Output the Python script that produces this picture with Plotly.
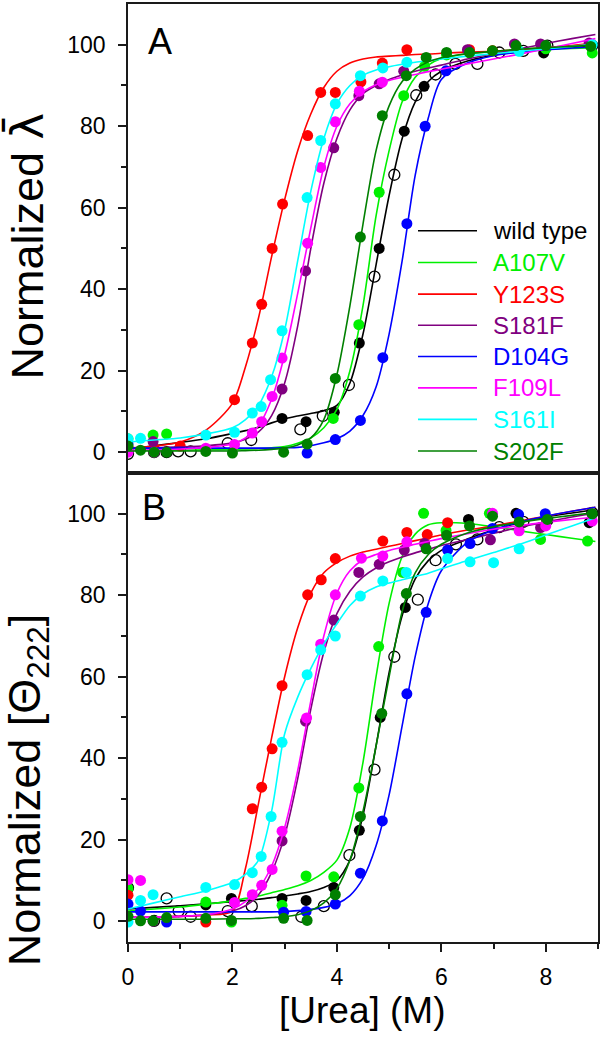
import plotly.graph_objects as go

# ---------------- data ----------------
SERIES = ["wild type", "A107V", "Y123S", "S181F", "D104G", "F109L", "S161I", "S202F"]
COLORS = ["#000000", "#00F000", "#FF0000", "#800080", "#0000FF", "#FF00FF", "#00FFFF", "#008000"]

# x positions at which the fitted curves were read
FIT_X = [0, 0.5, 1, 1.5, 2, 2.25, 2.5, 2.75, 3, 3.25, 3.5, 3.75, 4, 4.25, 4.5,
         4.75, 5, 5.25, 5.5, 5.75, 6, 6.5, 7, 7.5, 8, 8.5, 8.95]

# ---- Panel A: fitted curves ----
A_FIT_WT = [0.8, 1.6, 2.4, 3.3, 4.6, 5.3, 6.1, 7.2, 8.2, 8.9, 9.5, 10.2, 11.5, 17, 29, 46, 63, 77, 86, 91, 93.5, 96, 97.5, 98.3, 98.9, 99.3, 99.7]
A_FIT_A107V = [0.5, 0.5, 0.5, 0.6, 0.7, 0.8, 0.9, 1.1, 1.4, 2.2, 3.5, 6, 10.5, 20, 36, 58, 74, 86, 92, 95, 96.6, 97.8, 98.3, 98.6, 98.9, 99.1, 99.3]
A_FIT_Y123S = [1, 1.5, 2.5, 5.5, 12, 21, 33, 48, 62, 74, 83, 89.5, 93.5, 95.5, 96.5, 97, 97.2, 97.4, 97.6, 97.7, 97.9, 98.2, 98.4, 98.8, 99.3, 99.8, 100.4]
A_FIT_S181F = [1, 1.1, 1.3, 1.6, 2.3, 3.2, 5, 9, 17, 31, 50, 66, 77, 84, 88, 90, 91.5, 92.6, 93.5, 94.3, 95, 96.5, 97.8, 99, 100.3, 101.5, 102.5]
A_FIT_D104G = [1, 1, 1, 1, 1, 1, 1, 1, 1.1, 1.2, 1.6, 2.3, 3.3, 5.2, 9, 16, 29, 47, 68, 82, 91.5, 95.5, 97.3, 98.2, 98.8, 99.2, 99.5]
A_FIT_F109L = [0.5, 0.6, 0.8, 1.2, 2, 3.5, 6.5, 13, 24, 39, 55, 70, 80, 85.5, 88.5, 90.2, 91.2, 92, 92.7, 93.4, 94, 95.3, 96.5, 97.7, 99, 100.3, 101.5]
A_FIT_S161I = [2.5, 3, 3.5, 4.5, 6, 8, 11.5, 18.5, 30, 47, 64, 77, 85.5, 90, 92.5, 93.8, 94.6, 95.2, 95.7, 96.1, 96.5, 97.2, 97.8, 98.4, 99, 99.6, 100.2]
A_FIT_S202F = [0.3, 0.3, 0.3, 0.3, 0.3, 0.4, 0.5, 0.7, 1, 1.8, 3.5, 8, 19, 36, 56, 74, 85, 91, 94, 95.8, 96.8, 97.8, 98.4, 98.9, 99.3, 99.6, 99.9]

# ---- Panel A: measured points ----
A_WT_X = [0, 2.95, 3.41, 3.95, 4.43, 4.81, 5.29, 5.67, 7.96]
A_WT_Y = [0.5, 8.3, 7.5, 9.8, 26.8, 50.0, 78.8, 89.8, 98.0]
A_WT_OPEN_X = [0, 0.5, 0.74, 0.96, 1.2, 1.91, 2.36, 3.3, 3.73, 4.23, 4.72, 5.1, 5.52, 5.89, 6.27, 6.69, 7.11, 7.57, 8.03, 8.89]
A_WT_OPEN_Y = [-0.4, 0, 0, 0.2, 0.2, 2.2, 3.0, 5.6, 8.9, 16.5, 43.1, 68.1, 87.6, 92.7, 95.3, 95.3, 98.1, 98.5, 99.8, 99.8]
A_A107V_X = [0, 0.48, 0.74, 3.93, 4.42, 4.81, 5.28, 5.68, 6.1, 6.54, 6.98, 7.49, 8.0, 8.89]
A_A107V_Y = [3.3, 4.2, 4.5, 8.3, 31.3, 63.8, 87.5, 94.7, 97.5, 98, 98.5, 98.5, 99, 98]
A_Y123S_X = [0, 0.5, 1.0, 2.04, 2.38, 2.56, 2.76, 2.96, 3.44, 3.69, 3.97, 4.46, 4.87, 5.34, 6.54, 6.98]
A_Y123S_Y = [1, 1, 1.5, 12.9, 26.8, 36.3, 50.0, 60.9, 77.7, 88.3, 88.3, 90.9, 95.5, 98.8, 98.8, 98.5]
A_S181F_X = [0, 0.48, 2.95, 3.4, 3.94, 4.42, 4.81, 5.28, 6.5, 7.4, 7.9, 8.83]
A_S181F_Y = [1, 2.6, 15.5, 44.5, 74.7, 87.5, 90.4, 93.5, 98.8, 100.2, 100.2, 100.4]
A_D104G_X = [0, 3.43, 3.97, 4.45, 4.88, 5.34, 5.69, 6.09]
A_D104G_Y = [2.0, -0.2, 3.1, 7.8, 23.2, 56.1, 80.0, 93.6]
A_F109L_X = [0, 0.5, 1.49, 2.04, 2.38, 2.56, 2.76, 2.95, 3.44, 3.69, 3.97, 4.43, 4.87]
A_F109L_Y = [0, 0, 1, 1.9, 4.7, 7.5, 13.7, 23.1, 51.3, 69.9, 81.1, 88.6, 90.8]
A_S161I_X = [0, 0.24, 1.49, 2.04, 2.38, 2.55, 2.73, 2.95, 3.43, 3.69, 3.97, 4.45, 4.88, 5.34, 7.49, 8.89]
A_S161I_Y = [3.3, 3.4, 4.2, 4.9, 9.6, 11.2, 17.8, 29.8, 62.5, 76.5, 85.5, 92.4, 94.3, 95.7, 98.4, 100]
A_S202F_X = [0, 0.24, 0.5, 0.74, 1.49, 2.0, 2.98, 3.43, 3.97, 4.45, 4.87, 5.33, 5.71, 6.1, 6.54, 6.98, 7.43, 8.0, 8.86]
A_S202F_Y = [1.5, 0.5, 0, 0, 0.2, -0.2, 0, 2.0, 18.1, 52.8, 82.6, 92.4, 96.9, 98.1, 98.1, 98.5, 99.8, 99.8, 99.6]

# ---- Panel B: fitted curves ----
B_FIT_WT = [3, 3.4, 3.8, 4.3, 4.8, 5.1, 5.4, 5.8, 6.2, 6.7, 7.3, 8.3, 10, 15, 26, 43, 61, 75, 84, 88.5, 91, 93.8, 96, 97.8, 99.2, 100.2, 101]
B_FIT_A107V = [2.5, 3, 3.5, 4.2, 5, 5.6, 6.2, 7, 7.8, 8.7, 10, 12, 15, 23, 39, 60, 78, 89.5, 95, 97.3, 97.8, 97.6, 96.8, 95.8, 94.9, 94, 93.2]
B_FIT_Y123S = [1, 1, 1.2, 1.5, 2.5, 13, 29, 45, 60, 72, 80.5, 85.5, 88, 89.6, 90.6, 91.3, 92, 92.7, 93.4, 94.1, 94.8, 96, 97, 98.2, 99.4, 100.6, 101.6]
B_FIT_S181F = [1, 1, 1.2, 1.6, 2.5, 3.8, 6.5, 12, 21, 35, 52, 66, 75.5, 81, 84.5, 86.7, 88.2, 89.4, 90.4, 91.3, 92.2, 93.7, 95.2, 96.7, 98, 99.2, 100.2]
B_FIT_D104G = [2.3, 2.3, 2.3, 2.3, 2.3, 2.3, 2.3, 2.3, 2.4, 2.6, 2.9, 3.4, 4.3, 6.3, 10.5, 18.5, 31, 48, 65, 78, 86, 93, 96, 98, 99.4, 100.6, 101.6]
B_FIT_F109L = [1, 1, 1.2, 1.6, 3, 4.8, 8, 13.5, 23, 37, 54, 70, 80.5, 86, 88.7, 90, 91, 91.8, 92.5, 93.2, 93.9, 95.1, 96.2, 97.1, 97.9, 98.6, 99.2]
B_FIT_S161I = [3, 4.5, 6, 7.5, 9.5, 11.5, 15, 27, 46, 55, 62, 68, 73, 77.5, 80.3, 82, 83, 83.8, 84.6, 85.4, 86.5, 88.5, 90.5, 92.5, 94.8, 97, 99]
B_FIT_S202F = [0.5, 0.5, 0.5, 0.5, 0.6, 0.6, 0.7, 0.9, 1.1, 1.6, 2.6, 4.5, 8, 15, 27, 43, 60, 76, 85.5, 90, 92.5, 95.3, 96.8, 97.9, 98.8, 99.6, 100.3]

# ---- Panel B: measured points ----
B_WT_X = [1.49, 1.98, 2.95, 3.41, 3.94, 4.43, 4.83, 5.31, 6.52, 7.43, 8.83]
B_WT_Y = [4, 5.6, 5.6, 5.1, 8.3, 22.3, 50.0, 77.0, 98.6, 100.1, 97.8]
B_WT_OPEN_X = [0, 0.5, 0.74, 0.97, 1.2, 1.91, 2.37, 3.32, 3.75, 4.24, 4.72, 5.1, 5.55, 5.89, 6.28, 6.69, 7.11, 7.57, 8.03, 8.89]
B_WT_OPEN_Y = [8.2, 0.1, 5.6, 2.5, 1.1, 2.5, 3.7, 1.1, 3.7, 16.2, 37.2, 64.9, 78.9, 88.6, 92.5, 93.7, 96.7, 98.0, 98.4, 100.2]
B_A107V_X = [0, 1.49, 1.98, 2.95, 3.41, 3.94, 4.42, 4.8, 5.26, 5.66, 6.09, 6.92, 7.9, 8.8]
B_A107V_Y = [8.0, 4.7, -0.2, 3.9, 11.1, 10.9, 32.7, 67.4, 85.6, 100.1, 95.9, 100.1, 93.7, 93.3]
B_Y123S_X = [0, 1.49, 2.38, 2.56, 2.76, 2.95, 3.44, 3.7, 3.97, 4.88, 5.34, 5.73, 6.12]
B_Y123S_Y = [6.4, -0.2, 27.6, 32.9, 42.3, 57.8, 80.1, 83.8, 89.0, 93.3, 95.4, 94.9, 97.8]
B_S181F_X = [0.48, 2.95, 3.4, 3.94, 4.42, 4.81, 5.29, 5.68, 6.94, 7.9]
B_S181F_Y = [0, 19.7, 49.1, 73.9, 85.6, 87.6, 91.1, 92.7, 93.6, 96.6]
B_D104G_X = [0, 0.24, 0.74, 2.98, 3.41, 3.97, 4.45, 4.87, 5.34, 5.71, 6.12, 6.55, 6.98, 7.48, 7.99]
B_D104G_Y = [4.2, 2.5, -0.2, 2.2, 2.4, 4.2, 11.8, 24.6, 55.8, 75.8, 91.1, 92.7, 96.4, 99.8, 100.0]
B_F109L_X = [0, 0.24, 2.04, 2.38, 2.56, 2.76, 2.95, 3.42, 3.69, 3.97, 4.47, 4.88, 5.34, 6.98, 7.49, 8.0, 8.89]
B_F109L_Y = [10.2, 10.0, 4.6, 6.5, 8.8, 12.7, 22.1, 49.9, 68.0, 80.1, 89.1, 89.6, 93.1, 100.1, 95.8, 97.0, 98.2]
B_S161I_X = [0, 0.24, 0.48, 1.49, 2.04, 2.38, 2.55, 2.74, 2.95, 3.43, 3.69, 3.97, 4.45, 4.88, 5.33, 6.12, 6.55, 7.0, 7.49]
B_S161I_Y = [-0.2, 5.1, 6.5, 8.3, 9.0, 11.9, 15.9, 25.7, 43.9, 60.5, 66.6, 70.0, 79.8, 83.5, 85.6, 89.0, 88.2, 88.0, 91.4]
B_S202F_X = [0, 0.24, 0.48, 0.74, 1.49, 1.98, 2.98, 3.43, 3.97, 4.45, 4.86, 5.33, 5.71, 6.1, 6.54, 6.98, 7.49, 8.03, 8.89]
B_S202F_Y = [1.2, 0.1, 0.1, 0.9, 0.7, 0.2, 0.7, 0.2, 6.5, 25.7, 51.0, 80.4, 91.4, 94.7, 97.0, 99.4, 98.0, 98.6, 100.0]

Y_TICKS = [0, 20, 40, 60, 80, 100]
Y_MINOR = [10, 30, 50, 70, 90]
X_TICKS = [0, 2, 4, 6, 8]
X_MINOR = [1, 3, 5, 7, 9]

# ---------------- figure ----------------
FONT = "Liberation Sans, Arial, sans-serif"
W, H = 602, 1050
ML, MR, MT, MB = 128, 4, 2, 108
PW, PH = W - ML - MR, H - MT - MB

A_FITS = [A_FIT_WT, A_FIT_A107V, A_FIT_Y123S, A_FIT_S181F, A_FIT_D104G, A_FIT_F109L, A_FIT_S161I, A_FIT_S202F]
A_PTS = [(A_WT_X, A_WT_Y), (A_A107V_X, A_A107V_Y), (A_Y123S_X, A_Y123S_Y), (A_S181F_X, A_S181F_Y),
         (A_D104G_X, A_D104G_Y), (A_F109L_X, A_F109L_Y), (A_S161I_X, A_S161I_Y), (A_S202F_X, A_S202F_Y)]
B_FITS = [B_FIT_WT, B_FIT_A107V, B_FIT_Y123S, B_FIT_S181F, B_FIT_D104G, B_FIT_F109L, B_FIT_S161I, B_FIT_S202F]
B_PTS = [(B_WT_X, B_WT_Y), (B_A107V_X, B_A107V_Y), (B_Y123S_X, B_Y123S_Y), (B_S181F_X, B_S181F_Y),
         (B_D104G_X, B_D104G_Y), (B_F109L_X, B_F109L_Y), (B_S161I_X, B_S161I_Y), (B_S202F_X, B_S202F_Y)]

fig = go.Figure()


def add_panel(xa, ya, fits, pts, open_pts):
    for name, color, fy, (px, py) in zip(SERIES, COLORS, fits, pts):
        fig.add_trace(go.Scatter(
            x=FIT_X, y=fy, mode="lines", xaxis=xa, yaxis=ya, showlegend=False,
            line=dict(color=color, width=1.6, shape="spline", smoothing=0.8),
            hoverinfo="skip"))
        fig.add_trace(go.Scatter(
            x=px, y=py, mode="markers", xaxis=xa, yaxis=ya, showlegend=False,
            marker=dict(color=color, size=11, line=dict(width=0)), name=name))
        if name == "wild type":
            fig.add_trace(go.Scatter(
                x=open_pts[0], y=open_pts[1], mode="markers", xaxis=xa, yaxis=ya,
                showlegend=False, name="wild type (open)",
                marker=dict(symbol="circle-open", color="#000000", size=11,
                            line=dict(width=1.3, color="#000000"))))


add_panel("x", "y", A_FITS, A_PTS, (A_WT_OPEN_X, A_WT_OPEN_Y))
add_panel("x2", "y2", B_FITS, B_PTS, (B_WT_OPEN_X, B_WT_OPEN_Y))

AXLINE = dict(showline=True, mirror=True, linecolor="#1a1a1a", linewidth=1.5,
              showgrid=False, zeroline=False)
YAX = dict(AXLINE, range=[-5.1, 110], tickmode="array", tickvals=Y_TICKS,
           ticks="outside", ticklen=8, tickwidth=1.5, tickcolor="#1a1a1a",
           minor=dict(tickmode="array", tickvals=Y_MINOR, ticks="outside", ticklen=5,
                      tickwidth=1.5, tickcolor="#1a1a1a"),
           tickfont=dict(family=FONT, size=23, color="#000"), ticklabelstandoff=8)

fig.update_layout(
    width=W, height=H,
    margin=dict(l=ML, r=MR, t=MT, b=MB),
    paper_bgcolor="white", plot_bgcolor="white",
    font=dict(family=FONT, color="#000"),
    showlegend=False,
    xaxis=dict(AXLINE, domain=[0, 1], anchor="y", range=[0, 9], ticks="", showticklabels=False),
    yaxis=dict(YAX, domain=[0.5, 1], anchor="x"),
    xaxis2=dict(AXLINE, domain=[0, 1], anchor="y2", range=[0, 9], tickmode="array",
                tickvals=X_TICKS, ticks="outside", ticklen=8, tickwidth=1.5, tickcolor="#1a1a1a",
                minor=dict(tickmode="array", tickvals=X_MINOR, ticks="outside", ticklen=5,
                           tickwidth=1.5, tickcolor="#1a1a1a"),
                tickfont=dict(family=FONT, size=23, color="#000"), ticklabelstandoff=6),
    yaxis2=dict(YAX, domain=[0, 0.5], anchor="x2"),
)


def px_to_paper_x(px):
    return (px - ML) / PW


def py_to_paper_y(py):
    return (H - MB - py) / PH


ann = []
ann.append(dict(text="A", x=px_to_paper_x(160), y=py_to_paper_y(40), xref="paper", yref="paper",
                showarrow=False, xanchor="center", yanchor="middle",
                font=dict(family=FONT, size=36, color="#000")))
ann.append(dict(text="B", x=px_to_paper_x(154), y=py_to_paper_y(507), xref="paper", yref="paper",
                showarrow=False, xanchor="center", yanchor="middle",
                font=dict(family=FONT, size=36, color="#000")))
ann.append(dict(text="Normalized <span style=\"font-family:DejaVu Sans\">\u03bb\u0304</span>",
                x=px_to_paper_x(27), y=py_to_paper_y(245), xref="paper", yref="paper",
                showarrow=False, textangle=-90, xanchor="center", yanchor="middle",
                font=dict(family=FONT, size=45, color="#000")))
ann.append(dict(text="Normalized [\u0398<sub>222</sub>]", x=px_to_paper_x(27), y=py_to_paper_y(790),
                xref="paper", yref="paper", showarrow=False, textangle=-90,
                xanchor="center", yanchor="middle",
                font=dict(family=FONT, size=45, color="#000")))
ann.append(dict(text="[Urea] (M)", x=px_to_paper_x(362), y=py_to_paper_y(1011), xref="paper",
                yref="paper", showarrow=False, xanchor="center", yanchor="middle",
                font=dict(family=FONT, size=37, color="#000")))

LEG_ROWS = [229.3, 261, 292.7, 324, 355.3, 386.7, 418.3, 450]
shapes = []
for name, color, row in zip(SERIES, COLORS, LEG_ROWS):
    yy = py_to_paper_y(row)
    shapes.append(dict(type="line", xref="paper", yref="paper",
                       x0=px_to_paper_x(418), x1=px_to_paper_x(477), y0=yy, y1=yy,
                       line=dict(color=color, width=1.6)))
    ann.append(dict(text=name, x=px_to_paper_x(491), y=yy, xref="paper", yref="paper",
                    showarrow=False, xanchor="left", yanchor="middle",
                    font=dict(family=FONT, size=24, color=color)))

fig.update_layout(annotations=ann, shapes=shapes)
fig.write_html("out.html", config={"displayModeBar": False},
               post_script="document.body.style.margin='0';document.body.style.padding='0';")
